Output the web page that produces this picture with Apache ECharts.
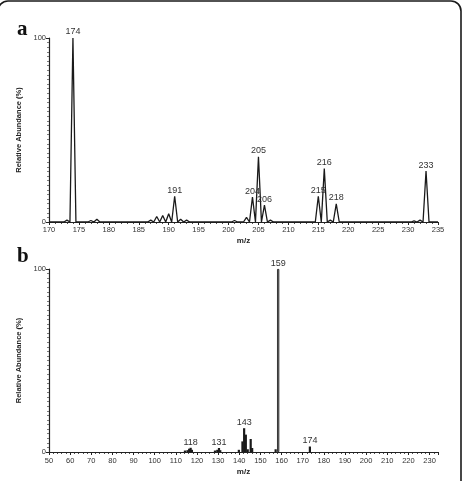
<!DOCTYPE html>
<html><head><meta charset="utf-8">
<script src="https://cdn.jsdelivr.net/npm/echarts@6/dist/echarts.min.js"></script>
<style>html,body{margin:0;padding:0;background:#fff}#c{width:465px;height:481px}</style>
</head><body><div id="c"></div>
<script>
// Panel a: profile spectrum (m/z, relative abundance %)
const aMz = [173, 174, 177, 178, 187, 188, 189, 190, 191, 192, 193, 201, 203, 204, 205, 206, 207, 215, 216, 217, 218, 231, 232, 233];
const aAb = [1, 100, 0.8, 1.5, 1, 3, 3.5, 4.5, 14, 1.5, 1, 0.8, 2.5, 13.5, 35.5, 9.2, 1, 14, 29, 1, 9.8, 0.6, 1, 27.7];
const aLabeled = [174, 191, 204, 205, 206, 215, 216, 218, 233];
const aTicks = [170, 175, 180, 185, 190, 195, 200, 205, 210, 215, 220, 225, 230, 235];

// Panel b: stick spectrum
const bMz = [114.3, 115.5, 116.3, 117, 117.6, 128.5, 129.6, 130.4, 131, 139.8, 141.5, 142.3, 143.1, 144, 145.4, 146.1, 157.2, 158.4, 173.4];
const bAb = [0.8, 1, 1.8, 2.3, 1.2, 0.8, 1.2, 2.2, 1, 1.2, 5.8, 13, 9.5, 1.5, 7.1, 2.2, 1.5, 100, 3];
const bLabelMz = [117, 130.4, 142.3, 158.4, 173.4];
const bLabelText = ['118', '131', '143', '159', '174'];
const bTicks = [50, 60, 70, 80, 90, 100, 110, 120, 130, 140, 150, 160, 170, 180, 190, 200, 210, 220, 230];

const yTicks = [0, 100];
const halfWidth = 0.5;

const FONT = 'Liberation Sans, Arial, sans-serif';
const axisCol = '#222';

// build profile line
const aData = [[aTicks[0], 0]];
aMz.forEach((m, i) => {
  aData.push([m - halfWidth, 0]);
  aData.push([m, aAb[i]]);
  aData.push([m + halfWidth, 0]);
});
aData.push([aTicks[aTicks.length - 1], 0]);

const aLabelData = aLabeled.map(m => {
  const i = aMz.indexOf(m);
  const off = m === 204 ? [-5, 0] : m === 206 ? [5, 0] : m === 215 ? [-3, 0] : [0, 0];
  return { value: [m, aAb[i]], label: { offset: off } };
});

const bData = bMz.map((m, i) => {
  const li = bLabelMz.indexOf(m);
  const item = { value: [m, bAb[i]] };
  if (li >= 0) item.label = { show: true, formatter: bLabelText[li], position: 'top', distance: 1 };
  if (bAb[i] >= 50) item.itemStyle = { color: '#8a8a8a', borderColor: '#111', borderWidth: 0.8 };
  return item;
});

function xAxisDef(idx, min, max, interval, nameGap, labelMargin) {
  return {
    gridIndex: idx, type: 'value', min: min, max: max, interval: interval,
    name: 'm/z', nameLocation: 'middle', nameGap: nameGap,
    nameTextStyle: { fontFamily: FONT, fontWeight: 'bold', fontSize: 8, color: '#222' },
    axisLine: { show: true, onZero: false, lineStyle: { color: axisCol, width: 1.2 } },
    axisTick: { show: true, length: 3, lineStyle: { color: axisCol, width: 1 } },
    minorTick: { show: true, splitNumber: 5, length: 2, lineStyle: { color: axisCol, width: 0.8 } },
    axisLabel: { fontFamily: FONT, fontSize: 7.5, color: '#333', margin: labelMargin,
      formatter: v => (v <= max ? String(v) : '') },
    splitLine: { show: false }
  };
}
function yAxisDef(idx) {
  return {
    gridIndex: idx, type: 'value', min: yTicks[0], max: yTicks[1], interval: 100,
    name: 'Relative Abundance (%)', nameLocation: 'middle', nameGap: 9,
    nameTextStyle: { fontFamily: FONT, fontWeight: 'bold', fontSize: 7.5, color: '#222' },
    axisLine: { show: true, lineStyle: { color: axisCol, width: 1.2 } },
    axisTick: { show: true, length: 3, lineStyle: { color: axisCol, width: 1 } },
    minorTick: { show: true, splitNumber: 40, length: 2, lineStyle: { color: '#444', width: 0.7 } },
    axisLabel: { fontFamily: FONT, fontSize: 7.5, color: '#333', margin: 3 },
    splitLine: { show: false }
  };
}

const chart = echarts.init(document.getElementById('c'), null, { renderer: 'canvas' });
chart.setOption({
  backgroundColor: '#fff',
  animation: false,
  grid: [
    { left: 49, right: 27, top: 38, height: 184 },
    { left: 49, right: 27, top: 269, height: 183 }
  ],
  xAxis: [xAxisDef(0, 170, 235, 5, 15, 4), xAxisDef(1, 50, 234, 10, 16, 5)],
  yAxis: [yAxisDef(0), yAxisDef(1)],
  series: [
    {
      type: 'line', xAxisIndex: 0, yAxisIndex: 0, data: aData,
      showSymbol: false, symbol: 'none',
      lineStyle: { color: '#1a1a1a', width: 1.3 },
      z: 3
    },
    {
      type: 'scatter', xAxisIndex: 0, yAxisIndex: 0, data: aLabelData,
      symbolSize: 1, itemStyle: { color: 'rgba(0,0,0,0)', opacity: 1 },
      label: { show: true, position: 'top', distance: 1, fontFamily: FONT, fontSize: 9, color: '#333', opacity: 1,
        formatter: p => String(p.value[0]) },
      labelLayout: { hideOverlap: false },
      z: 4
    },
    {
      type: 'bar', xAxisIndex: 1, yAxisIndex: 1, data: bData,
      barWidth: 2.2,
      itemStyle: { color: '#1a1a1a' },
      label: { fontFamily: FONT, fontSize: 9, color: '#333' },
      z: 3
    }
  ],
  graphic: [
    { type: 'rect', shape: { x: -2, y: 1, width: 463, height: 495, r: 10 },
      style: { fill: 'none', stroke: '#1a1a1a', lineWidth: 1.6 }, z: 10 },
    { type: 'text', left: 17, top: 19, style: { text: 'a', font: 'bold 21px "Liberation Serif", "Times New Roman", serif', fill: '#111' } },
    { type: 'text', left: 17, top: 246, style: { text: 'b', font: 'bold 21px "Liberation Serif", "Times New Roman", serif', fill: '#111' } }
  ]
});
</script>
</body></html>
